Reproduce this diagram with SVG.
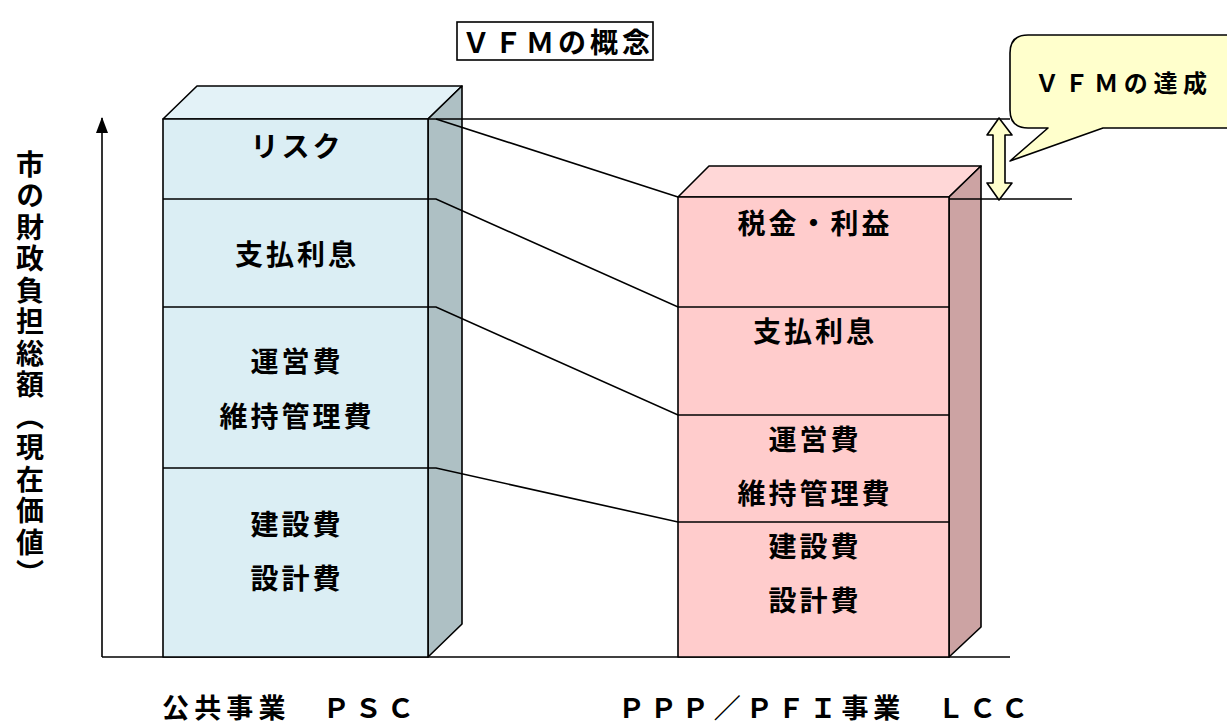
<svg xmlns="http://www.w3.org/2000/svg" width="1227" height="727" viewBox="0 0 1227 727">
<style>
  text { font-family: "Noto Sans CJK JP", "Noto Sans CJK SC", sans-serif; font-weight: bold; fill: #000; }
  .lbl { font-size: 28px; letter-spacing: 3px; text-anchor: middle; }
  .edge { stroke: #000; stroke-width: 1.6; stroke-linejoin: round; }
  .ln { stroke: #000; stroke-width: 1.6; fill: none; }
</style>
<defs>
  <marker id="arr" markerWidth="16" markerHeight="12" refX="15" refY="6" orient="auto" markerUnits="userSpaceOnUse" viewBox="0 0 16 12">
    <path d="M0,0 L16,6 L0,12 Z" fill="#000"/>
  </marker>
</defs>
<rect width="1227" height="727" fill="#fff"/>

<!-- axes -->
<g id="axes">
  <line class="ln" x1="102" y1="657" x2="102" y2="118" marker-end="url(#arr)"/>
  <line class="ln" x1="102" y1="657" x2="1010" y2="657"/>
</g>

<!-- left box PSC -->
<g id="psc">
  <polygon class="edge" points="163,119 197,86 462,86 428,119" fill="#E3F2F7"/>
  <polygon class="edge" points="428,119 462,86 462,624 428,657" fill="#AEC0C4"/>
  <rect class="edge" x="163" y="119" width="265" height="538" fill="#DBEEF4"/>
  <text class="lbl" x="297" y="157">リスク</text>
  <text class="lbl" x="297" y="265">支払利息</text>
  <text class="lbl" x="297" y="372">運営費</text>
  <text class="lbl" x="297" y="427">維持管理費</text>
  <text class="lbl" x="297" y="535">建設費</text>
  <text class="lbl" x="297" y="589">設計費</text>
</g>

<!-- right box LCC -->
<g id="lcc">
  <polygon class="edge" points="678,197 709,166 981,166 949,197" fill="#FFD7D7"/>
  <polygon class="edge" points="949,197 981,166 981,627 949,657" fill="#CCA3A3"/>
  <rect class="edge" x="678" y="197" width="271" height="460" fill="#FFCCCC"/>
  <text class="lbl" x="815" y="234">税金・利益</text>
  <text class="lbl" x="815" y="342">支払利息</text>
  <text class="lbl" x="815" y="450">運営費</text>
  <text class="lbl" x="815" y="504">維持管理費</text>
  <text class="lbl" x="815" y="557">建設費</text>
  <text class="lbl" x="815" y="611">設計費</text>
</g>

<!-- connectors -->
<g id="connectors">
  <line class="ln" x1="428" y1="119" x2="1010" y2="119"/>
  <line class="ln" x1="949" y1="199" x2="1072" y2="199"/>
  <polyline class="ln" points="436,119 678,197"/>
  <polyline class="ln" points="163,199 436,199 678,307 949,307"/>
  <polyline class="ln" points="163,307 436,307 678,415 949,415"/>
  <polyline class="ln" points="163,468 436,468 678,522 949,522"/>
</g>

<!-- VFM double arrow -->
<g id="vfm-arrow">
  <polygon class="edge" fill="#FFFFCC" points="999,118 1012,135 1005,135 1005,183 1012,183 999,200 987,183 993,183 993,135 987,135"/>
</g>

<!-- callout -->
<g id="callout">
  <path class="edge" fill="#FFFFCC" d="M1028,35 L1250,35 L1250,128 L1103,128 L1010,161 L1048,128 L1028,128 Q1010,128 1010,110 L1010,53 Q1010,35 1028,35 Z"/>
  <text x="1035" y="92" font-size="24" textLength="172" lengthAdjust="spacing">ＶＦＭの達成</text>
</g>

<!-- title -->
<g id="title">
  <rect x="457" y="22" width="196" height="38" fill="#fff" stroke="#000" stroke-width="1.6"/>
  <text x="462" y="53" font-size="28" textLength="188" lengthAdjust="spacing">ＶＦＭの概念</text>
</g>

<!-- axis label -->
<g id="axis-label">
  <text x="30" y="150" font-size="28" style="writing-mode: vertical-rl; letter-spacing: 3.5px;">市の財政負担総額（現在価値）</text>
</g>

<!-- bottom labels -->
<g id="bottom-labels">
  <text x="162" y="718" font-size="27" textLength="252" lengthAdjust="spacing">公共事業　ＰＳＣ</text>
  <text x="618" y="718" font-size="27" textLength="410" lengthAdjust="spacing">ＰＰＰ／ＰＦＩ事業　ＬＣＣ</text>
</g>
</svg>
